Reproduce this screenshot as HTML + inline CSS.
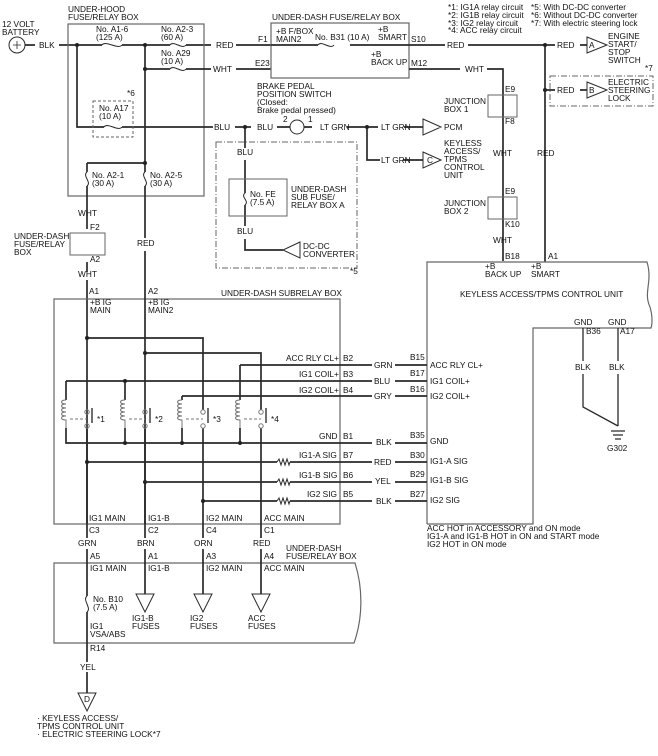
<!DOCTYPE html>
<html><head><meta charset="utf-8"><style>
html,body{margin:0;padding:0;background:#fff;}
svg{display:block;}
text{font-family:"Liberation Sans",sans-serif;font-size:8.3px;fill:#111;}
</style></head><body>
<svg width="658" height="756" viewBox="0 0 658 756" xmlns="http://www.w3.org/2000/svg">
<g stroke="#2a2a2a" stroke-width="1.7" fill="none">
<!-- battery -->
<circle cx="17" cy="45" r="8" stroke-width="1"/>
<path d="M13 45h8M17 41v8" stroke-width="0.8"/>
<path d="M25 45h10M59 45h43M122 45h48M186 45h25M236 45h35"/>
<!-- under-hood box -->
<rect x="68" y="24" width="136" height="172" stroke-width="1.2" stroke="#666"/>
<path d="M77 45v82h27M122 127h91M145 45v118M87 163h58M87 163v9M87 186v25M145 163v9M145 186v52M145 251v40"/>
<path d="M145 69h25M186 69h25M236 69h35"/>
<!-- fuses horizontal -->
<path d="M102 45c4-5 16 5 20 0M170 45c4-5 12 5 16 0M170 69c4-5 12 5 16 0M104 127c4-5 14 5 18 0" stroke-width="1"/>
<!-- fuses vertical -->
<path d="M87 172c-5 4 5 10 0 14M145 172c-5 4 5 10 0 14M245 193c-5 4 5 8 0 12M87 596c-5 4 5 12 0 16" stroke-width="1"/>
<rect x="93" y="101" width="40" height="36" stroke-width="1" stroke-dasharray="3,2" stroke="#666"/>
<!-- brake -->
<path d="M235 127h16M277 127h13M304 127h8M347 127h31M404 127h19M367 127v33h13M403 160h20"/>
<circle cx="297" cy="127" r="7" stroke-width="1"/>
<path d="M245 127v21M245 160v33M245 205v21M245 239v11h38"/>
<rect x="216" y="142" width="141" height="126" stroke-width="1" stroke-dasharray="6,2,1,2" stroke="#666"/>
<rect x="229" y="179" width="58" height="37" stroke-width="1" stroke="#666"/>
<path d="M300 242L283 250L300 258Z M423 119L441 127L423 135Z M423 152L441 160L423 168Z" stroke-width="1"/>
<!-- under-dash fuse box top -->
<rect x="271" y="23" width="138" height="55" stroke-width="1.2" stroke="#666"/>
<path d="M271 45h47M350 45h59M409 45h36M468 45h77M545 45h10M580 45h7M409 69h51M487 69h16v192M545 45v217M545 90h10M580 90h7" />
<path d="M318 45c4-5 12 5 16 0" stroke-width="1"/>
<path d="M587 37L607 45L587 53ZM587 82L607 90L587 98Z" stroke-width="1"/>
<rect x="550" y="76" width="103" height="30" stroke-width="1" stroke-dasharray="6,2,1,2" stroke="#666"/>
<rect x="488" y="95" width="29" height="22" stroke-width="1" stroke="#666"/>
<rect x="488" y="197" width="29" height="22" stroke-width="1" stroke="#666"/>
<!-- under-dash small box -->
<rect x="70" y="233" width="35" height="22" stroke-width="1" stroke="#666"/>
<path d="M87 211v18M87 262v10M87 280v244"/>
<!-- keyless unit -->
<path d="M427 524V262h220c6 20 -4 30 3 45c3 10 2 18 1 21H533v196H427" stroke-width="1.2" stroke="#666"/>
<path d="M583 328v33M583 374v33l35 19M618 328v33M618 374v52M611 431h14M613 435h10M615 439h6" stroke-width="1.3"/>
<!-- subrelay box -->
<rect x="54" y="299" width="286" height="225" stroke-width="1.2" stroke="#666"/>
<path d="M145 291v233M87 338h116v72M145 353h116v57M240 365h132M395 365h32M240 365v35M66 381h306M395 381h32M66 381v19M125 381v19M182 396h190M395 396h32M182 396v4M66 428v15h306M395 443h32M125 428v15M182 428v15M240 428v15"/>
<path d="M203 428v96M261 428v96M87 428v96M145 428v96"/>
<path d="M87 462h190M290 462h82M395 462h32M145 482h132M290 482h82M395 482h32M203 501h74M290 501h82M395 501h32"/>
<path d="M277 462l2-3 2 6 2-6 2 6 2-6 2 6 1-3M277 482l2-3 2 6 2-6 2 6 2-6 2 6 1-3M277 501l2-3 2 6 2-6 2 6 2-6 2 6 1-3" stroke-width="1"/>
<!-- relays -->
<g stroke-width="1" stroke="#777">
<path d="M66 400c-6 0-6 4 0 4c-6 0-6 4 0 4c-6 0-6 4 0 4c-6 0-6 4 0 4c-6 0-6 4 0 4v8"/>
<path d="M125 400c-6 0-6 4 0 4c-6 0-6 4 0 4c-6 0-6 4 0 4c-6 0-6 4 0 4c-6 0-6 4 0 4v8"/>
<path d="M182 400c-6 0-6 4 0 4c-6 0-6 4 0 4c-6 0-6 4 0 4c-6 0-6 4 0 4c-6 0-6 4 0 4v8"/>
<path d="M240 400c-6 0-6 4 0 4c-6 0-6 4 0 4c-6 0-6 4 0 4c-6 0-6 4 0 4c-6 0-6 4 0 4v8"/>
<path d="M70 419h17M129 419h16M186 419h17M244 419h17" stroke-dasharray="3,2"/>
<circle cx="87" cy="412" r="2.2"/><circle cx="87" cy="426" r="2.2"/>
<circle cx="145" cy="412" r="2.2"/><circle cx="145" cy="426" r="2.2"/>
<circle cx="203" cy="412" r="2.2"/><circle cx="203" cy="426" r="2.2"/>
<circle cx="261" cy="412" r="2.2"/><circle cx="261" cy="426" r="2.2"/>
<path d="M92 408v15M150 408v15M208 408v15M266 408v15" stroke="#333" stroke-width="1.4"/>
</g>
<!-- bottom box -->
<path d="M54 563h301c8 25 8 55 -1 80H54Z" stroke-width="1.2" stroke="#666"/>
<path d="M87 524v14M87 549v47M87 612v50M87 672v21M145 524v14M145 549v45M203 524v14M203 549v45M261 524v14M261 549v45"/>
<path d="M136 594h18l-9 18ZM194 594h18l-9 18ZM252 594h18l-9 18ZM78 693h18l-9 18Z" stroke-width="1"/>
</g>
<g fill="#222">
<circle cx="77" cy="45" r="2"/><circle cx="145" cy="45" r="2"/><circle cx="145" cy="69" r="2"/><circle cx="145" cy="163" r="2"/>
<circle cx="245" cy="127" r="2"/><circle cx="367" cy="127" r="2"/><circle cx="545" cy="45" r="2"/><circle cx="545" cy="90" r="2"/>
<circle cx="87" cy="338" r="2"/><circle cx="145" cy="353" r="2"/><circle cx="125" cy="381" r="2"/>
<circle cx="125" cy="443" r="2"/><circle cx="182" cy="443" r="2"/><circle cx="240" cy="443" r="2"/>
<circle cx="87" cy="462" r="2"/><circle cx="145" cy="482" r="2"/><circle cx="203" cy="501" r="2"/>
</g>
<g>
<text x="2" y="27">12 VOLT</text><text x="2" y="35">BATTERY</text>
<text x="39" y="48">BLK</text>
<text x="68" y="12">UNDER-HOOD</text><text x="68" y="20">FUSE/RELAY BOX</text>
<text x="96" y="32">No. A1-6</text><text x="96" y="40">(125 A)</text>
<text x="161" y="32">No. A2-3</text><text x="161" y="40">(60 A)</text>
<text x="161" y="56">No. A29</text><text x="161" y="64">(10 A)</text>
<text x="216" y="48">RED</text><text x="213" y="72">WHT</text>
<text x="127" y="96">*6</text><text x="99" y="111">No. A17</text><text x="99" y="119">(10 A)</text>
<text x="214" y="130">BLU</text><text x="257" y="130">BLU</text>
<text x="283" y="122">2</text><text x="308" y="122">1</text>
<text x="320" y="130">LT GRN</text><text x="381" y="130">LT GRN</text><text x="381" y="163">LT GRN</text>
<text x="444" y="130">PCM</text>
<text x="427" y="163">C</text>
<text x="444" y="146">KEYLESS</text><text x="444" y="154">ACCESS/</text><text x="444" y="162">TPMS</text><text x="444" y="170">CONTROL</text><text x="444" y="178">UNIT</text>
<text x="257" y="89">BRAKE PEDAL</text><text x="257" y="97">POSITION SWITCH</text><text x="257" y="105">(Closed:</text><text x="257" y="113">Brake pedal pressed)</text>
<text x="237" y="155">BLU</text><text x="237" y="234">BLU</text>
<text x="250" y="197">No. FE</text><text x="250" y="205">(7.5 A)</text>
<text x="291" y="192">UNDER-DASH</text><text x="291" y="200">SUB FUSE/</text><text x="291" y="208">RELAY BOX A</text>
<text x="303" y="249">DC-DC</text><text x="303" y="257">CONVERTER</text><text x="350" y="274">*5</text>
<text x="92" y="178">No. A2-1</text><text x="92" y="186">(30 A)</text>
<text x="150" y="178">No. A2-5</text><text x="150" y="186">(30 A)</text>
<text x="78" y="216">WHT</text><text x="90" y="230">F2</text><text x="90" y="262">A2</text><text x="78" y="277">WHT</text>
<text x="14" y="239">UNDER-DASH</text><text x="14" y="247">FUSE/RELAY</text><text x="14" y="255">BOX</text>
<text x="137" y="246">RED</text>
<text x="272" y="20">UNDER-DASH FUSE/RELAY BOX</text>
<text x="276" y="34">+B F/BOX</text><text x="276" y="42">MAIN2</text><text x="258" y="42">F1</text><text x="255" y="66">E23</text>
<text x="315" y="40">No. B31 (10 A)</text>
<text x="378" y="32">+B</text><text x="378" y="40">SMART</text><text x="411" y="42">S10</text>
<text x="371" y="57">+B</text><text x="371" y="65">BACK UP</text><text x="411" y="66">M12</text>
<text x="447" y="48">RED</text><text x="465" y="72">WHT</text><text x="557" y="48">RED</text><text x="557" y="93">RED</text>
<text x="589" y="48">A</text><text x="589" y="93">B</text>
<text x="608" y="39">ENGINE</text><text x="608" y="47">START/</text><text x="608" y="55">STOP</text><text x="608" y="63">SWITCH</text>
<text x="645" y="71">*7</text>
<text x="608" y="85">ELECTRIC</text><text x="608" y="93">STEERING</text><text x="608" y="101">LOCK</text>
<text x="448" y="10">*1: IG1A relay circuit</text><text x="448" y="18">*2: IG1B relay circuit</text><text x="448" y="26">*3: IG2 relay circuit</text><text x="448" y="33">*4: ACC relay circuit</text>
<text x="531" y="10">*5: With DC-DC converter</text><text x="531" y="18">*6: Without DC-DC converter</text><text x="531" y="26">*7: With electric steering lock</text>
<text x="505" y="92">E9</text><text x="505" y="124">F8</text><text x="444" y="104">JUNCTION</text><text x="444" y="112">BOX 1</text>
<text x="493" y="156">WHT</text><text x="537" y="156">RED</text>
<text x="505" y="194">E9</text><text x="505" y="227">K10</text><text x="444" y="206">JUNCTION</text><text x="444" y="214">BOX 2</text>
<text x="493" y="243">WHT</text><text x="505" y="259">B18</text><text x="548" y="259">A1</text>
<text x="485" y="269">+B</text><text x="485" y="277">BACK UP</text><text x="531" y="269">+B</text><text x="531" y="277">SMART</text>
<text x="460" y="297">KEYLESS ACCESS/TPMS CONTROL UNIT</text>
<text x="574" y="325">GND</text><text x="608" y="325">GND</text><text x="586" y="334">B36</text><text x="620" y="334">A17</text>
<text x="575" y="370">BLK</text><text x="609" y="370">BLK</text><text x="607" y="451">G302</text>
<text x="89" y="294">A1</text><text x="148" y="294">A2</text>
<text x="221" y="296">UNDER-DASH SUBRELAY BOX</text>
<text x="90" y="305">+B IG</text><text x="90" y="313">MAIN</text><text x="148" y="305">+B IG</text><text x="148" y="313">MAIN2</text>
<text x="286" y="361">ACC RLY CL+</text><text x="299" y="377">IG1 COIL+</text><text x="299" y="393">IG2 COIL+</text>
<text x="319" y="439">GND</text><text x="299" y="458">IG1-A SIG</text><text x="299" y="478">IG1-B SIG</text><text x="307" y="497">IG2 SIG</text>
<text x="343" y="361">B2</text><text x="343" y="377">B3</text><text x="343" y="393">B4</text><text x="343" y="439">B1</text><text x="343" y="458">B7</text><text x="343" y="478">B6</text><text x="343" y="497">B5</text>
<text x="374" y="368">GRN</text><text x="374" y="384">BLU</text><text x="374" y="399">GRY</text><text x="376" y="445">BLK</text><text x="374" y="465">RED</text><text x="375" y="484">YEL</text><text x="376" y="504">BLK</text>
<text x="410" y="360">B15</text><text x="410" y="376">B17</text><text x="410" y="392">B16</text><text x="410" y="438">B35</text><text x="410" y="458">B30</text><text x="410" y="477">B29</text><text x="410" y="497">B27</text>
<text x="430" y="368">ACC RLY CL+</text><text x="430" y="384">IG1 COIL+</text><text x="430" y="399">IG2 COIL+</text><text x="430" y="444">GND</text><text x="430" y="464">IG1-A SIG</text><text x="430" y="483">IG1-B SIG</text><text x="430" y="503">IG2 SIG</text>
<text x="427" y="531">ACC HOT in ACCESSORY and ON mode</text><text x="427" y="539">IG1-A and IG1-B HOT in ON and START mode</text><text x="427" y="547">IG2 HOT in ON mode</text>
<text x="97" y="422">*1</text><text x="155" y="422">*2</text><text x="213" y="422">*3</text><text x="271" y="422">*4</text>
<text x="89" y="521">IG1 MAIN</text><text x="148" y="521">IG1-B</text><text x="206" y="521">IG2 MAIN</text><text x="264" y="521">ACC MAIN</text>
<text x="89" y="533">C3</text><text x="148" y="533">C2</text><text x="206" y="533">C4</text><text x="264" y="533">C1</text>
<text x="78" y="546">GRN</text><text x="137" y="546">BRN</text><text x="194" y="546">ORN</text><text x="253" y="546">RED</text>
<text x="90" y="559">A5</text><text x="148" y="559">A1</text><text x="206" y="559">A3</text><text x="264" y="559">A4</text>
<text x="286" y="551">UNDER-DASH</text><text x="286" y="559">FUSE/RELAY BOX</text>
<text x="90" y="571">IG1 MAIN</text><text x="148" y="571">IG1-B</text><text x="206" y="571">IG2 MAIN</text><text x="264" y="571">ACC MAIN</text>
<text x="93" y="602">No. B10</text><text x="93" y="610">(7.5 A)</text>
<text x="132" y="621">IG1-B</text><text x="132" y="629">FUSES</text><text x="190" y="621">IG2</text><text x="190" y="629">FUSES</text><text x="248" y="621">ACC</text><text x="248" y="629">FUSES</text>
<text x="90" y="629">IG1</text><text x="90" y="637">VSA/ABS</text><text x="90" y="651">R14</text>
<text x="80" y="670">YEL</text><text x="84" y="702">D</text>
<text x="37" y="721">· KEYLESS ACCESS/</text><text x="37" y="729">TPMS CONTROL UNIT</text><text x="37" y="737">· ELECTRIC STEERING LOCK*7</text>
</g>
</svg>
</body></html>
